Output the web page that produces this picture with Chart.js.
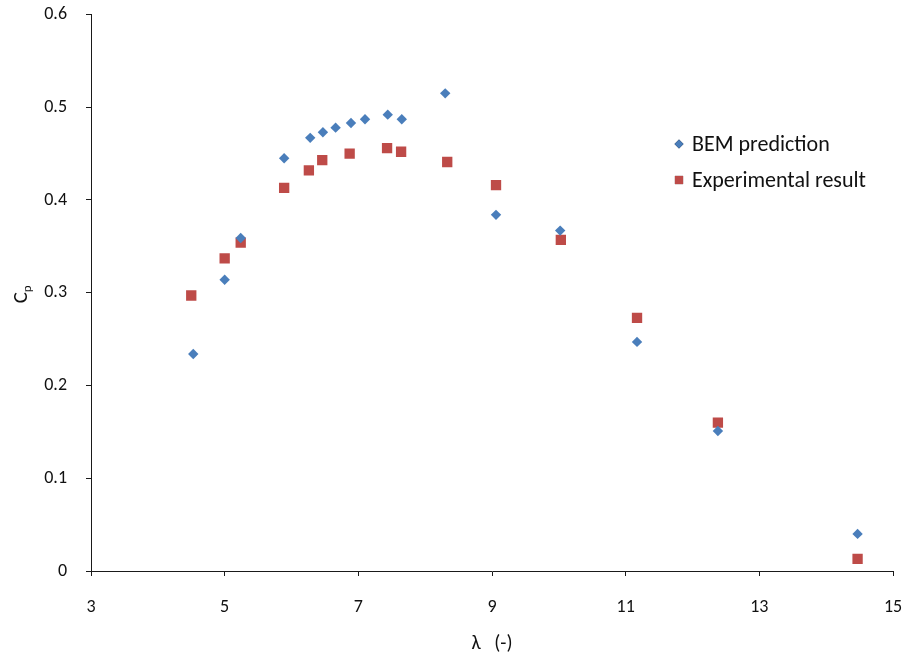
<!DOCTYPE html>
<html>
<head>
<meta charset="utf-8">
<title>Cp vs tip speed ratio</title>
<script src="https://cdn.jsdelivr.net/npm/chart.js@4.4.1/dist/chart.umd.min.js"></script>
<style>
  html, body { margin: 0; padding: 0; background: #fff; }
  canvas { display: block; }
</style>
</head>
<body>
<canvas id="cpChart" width="907" height="658"></canvas>
<script>
// tip speed ratio / power coefficient pairs
const bemTsr = [4.53, 5.00, 5.24, 5.89, 6.28, 6.47, 6.66, 6.89, 7.10, 7.44, 7.65, 8.30, 9.06, 10.02, 11.17, 12.38, 14.47];
const bemCp  = [0.234, 0.314, 0.359, 0.445, 0.467, 0.473, 0.478, 0.483, 0.487, 0.492, 0.487, 0.515, 0.384, 0.367, 0.247, 0.151, 0.040];
const expTsr = [4.50, 5.00, 5.24, 5.89, 6.26, 6.46, 6.87, 7.43, 7.64, 8.33, 9.06, 10.03, 11.17, 12.38, 14.47];
const expCp  = [0.297, 0.337, 0.354, 0.413, 0.432, 0.443, 0.450, 0.456, 0.452, 0.441, 0.416, 0.357, 0.273, 0.160, 0.013];
const seriesNames = ['BEM prediction', 'Experimental result'];
const xTicks = [3, 5, 7, 9, 11, 13, 15];
const yTicks = [0, 0.1, 0.2, 0.3, 0.4, 0.5, 0.6];

const FONT = 'Carlito, Lato, "Liberation Sans", sans-serif';
const BLUE = '#4a7ebb';
const RED = '#be4b48';
const AXIS = '#1a1a1a';

function toPoints(xs, ys) {
  let pts = [];
  for (let i = 0; i < xs.length; i++) {
    pts.push({x: xs[i], y: ys[i]});
  }
  return pts;
}

// legend drawn inside the plot area, right of the peak
const sideLegend = {
  id: 'sideLegend',
  afterDraw(chart) {
    const ctx = chart.ctx;
    const ca = chart.chartArea;
    const x0 = ca.left + 588;
    const rows = [ca.top + 129.5, ca.top + 165.5];
    ctx.save();
    chart.data.datasets.forEach((ds, i) => {
      Chart.helpers.drawPoint(ctx, {
        pointStyle: ds.pointStyle,
        radius: ds.pointStyle == 'rect' ? 5.8 : 4.5,
        rotation: 0,
        borderWidth: 0
      }, x0, rows[i]);
      ctx.fillStyle = ds.backgroundColor;
      ctx.fill();
      ctx.fillStyle = '#111';
      ctx.font = '22px ' + FONT;
      ctx.textAlign = 'left';
      ctx.textBaseline = 'middle';
      ctx.fillText(ds.label, x0 + 13, rows[i] + 1);
    });
    ctx.restore();
  }
};

// y axis title: C with subscript p, rotated
const cpTitle = {
  id: 'cpTitle',
  afterDraw(chart) {
    const ctx = chart.ctx;
    const ca = chart.chartArea;
    ctx.save();
    ctx.translate(20, (ca.top + ca.bottom) / 2 + 2);
    ctx.rotate(-Math.PI / 2);
    ctx.fillStyle = '#111';
    ctx.textBaseline = 'alphabetic';
    ctx.textAlign = 'left';
    ctx.font = '21px ' + FONT;
    const w = ctx.measureText('C').width;
    ctx.fillText('C', -w / 2 - 3, 7);
    ctx.font = '13px ' + FONT;
    ctx.fillText('p', w / 2 - 3, 11);
    ctx.restore();
  }
};

const ctx = document.getElementById('cpChart').getContext('2d');
const cpChart = new Chart(ctx, {
  type: 'scatter',
  data: {
    datasets: [{
      label: seriesNames[0],
      data: toPoints(bemTsr, bemCp),
      pointStyle: 'rectRot',
      pointRadius: 5.2,
      pointHoverRadius: 5.2,
      backgroundColor: BLUE,
      borderColor: BLUE,
      borderWidth: 0
    }, {
      label: seriesNames[1],
      data: toPoints(expTsr, expCp),
      pointStyle: 'rect',
      pointRadius: 7.3,
      pointHoverRadius: 7.3,
      backgroundColor: RED,
      borderColor: RED,
      borderWidth: 0
    }]
  },
  options: {
    responsive: false,
    animation: false,
    events: [],
    layout: { padding: { top: 14.5, right: 14, left: 0, bottom: 0 } },
    plugins: {
      legend: { display: false },
      tooltip: { enabled: false }
    },
    scales: {
      x: {
        type: 'linear',
        min: xTicks[0],
        max: xTicks[xTicks.length - 1],
        afterBuildTicks: (s) => { s.ticks = xTicks.map(v => ({value: v})); },
        // fixed box, no extra room for the end labels
        afterFit: (s) => { s.height = 87; s.paddingLeft = 0; s.paddingRight = 0; },
        grid: { drawOnChartArea: false, drawTicks: true, tickLength: 5, color: AXIS, lineWidth: 1 },
        border: { color: AXIS, width: 1 },
        ticks: { color: '#111', font: { family: FONT, size: 18 }, padding: 21, maxRotation: 0 },
        title: {
          display: true,
          text: 'λ   (-)',
          color: '#111',
          font: { family: FONT, size: 20 },
          padding: { top: 8, bottom: 2 }
        }
      },
      y: {
        type: 'linear',
        min: yTicks[0],
        max: yTicks[yTicks.length - 1],
        afterBuildTicks: (s) => { s.ticks = yTicks.map(v => ({value: v})); },
        afterFit: (s) => { s.width = 91; s.paddingTop = 0; s.paddingBottom = 0; },
        grid: { drawOnChartArea: false, drawTicks: true, tickLength: 5, color: AXIS, lineWidth: 1 },
        border: { color: AXIS, width: 1 },
        ticks: {
          color: '#111',
          font: { family: FONT, size: 18 },
          padding: 19,
          callback: (v) => v == 0 ? '0' : v.toFixed(1)
        }
      }
    }
  },
  plugins: [sideLegend, cpTitle]
});
</script>
</body>
</html>
